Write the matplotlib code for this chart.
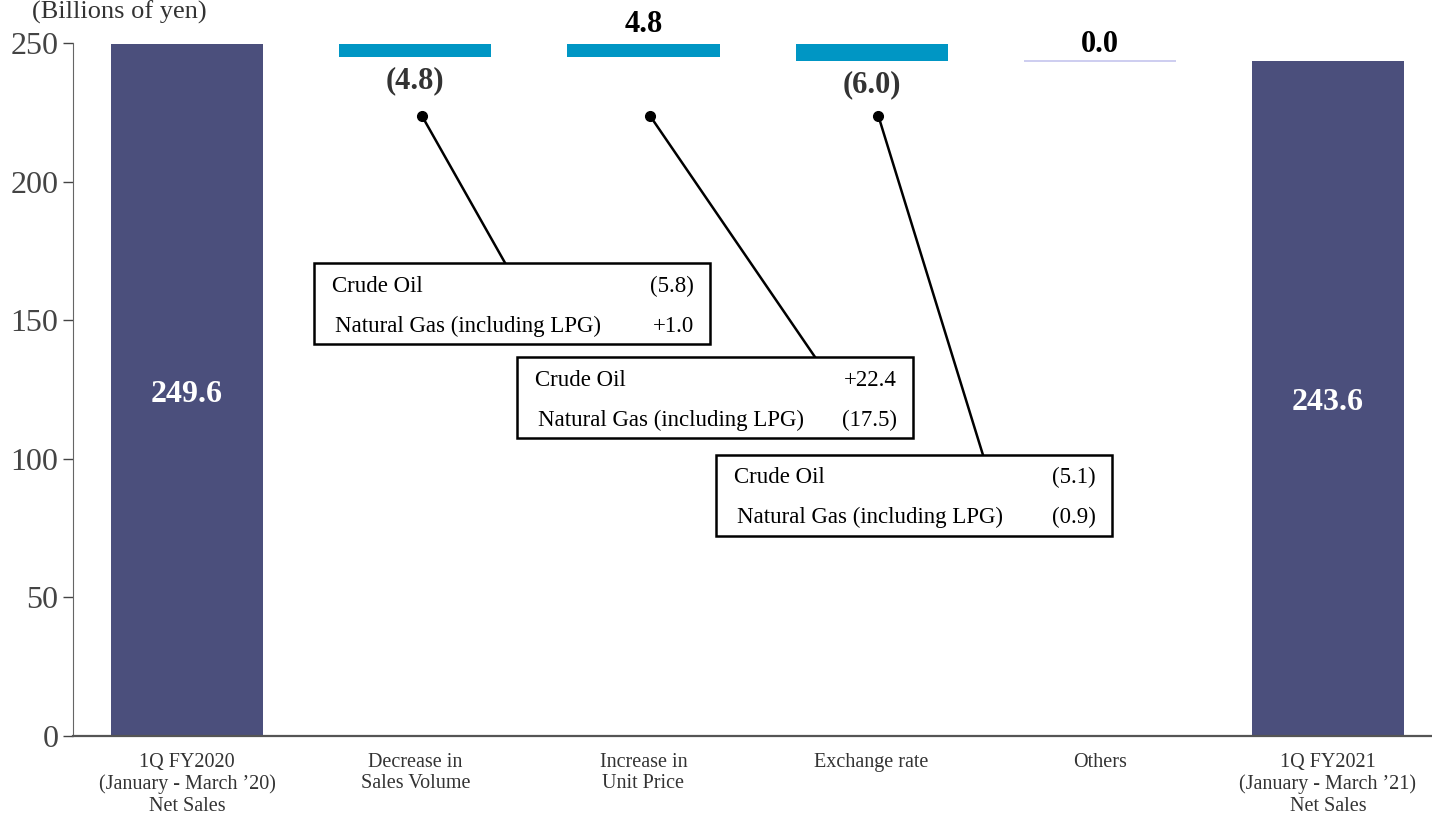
import matplotlib.pyplot as plt
from matplotlib.patches import Rectangle

plt.rcParams['font.family'] = ['Liberation Serif', 'DejaVu Serif']

# data
categories = ["1Q FY2020\n(January - March \u201920)\nNet Sales",
              "Decrease in\nSales Volume",
              "Increase in\nUnit Price",
              "Exchange rate",
              "Others",
              "1Q FY2021\n(January - March \u201921)\nNet Sales"]
start_value = 249.6
deltas = [-4.8, 4.8, -6.0, 0.0]
end_value = 243.6
yticks = [0, 50, 100, 150, 200, 250]

# breakdown boxes: (category index, rows)
breakdowns = [
    (1, [("Crude Oil", "(5.8)"), ("Natural Gas (including LPG)", "+1.0")]),
    (2, [("Crude Oil", "+22.4"), ("Natural Gas (including LPG)", "(17.5)")]),
    (3, [("Crude Oil", "(5.1)"), ("Natural Gas (including LPG)", "(0.9)")]),
]

total_color = '#4b4f7c'
delta_color = '#0096c4'
zero_color = '#c5c5ee'

fig = plt.figure(figsize=(14.32, 8.16), dpi=100)
ax = fig.add_axes([73 / 1432, 80 / 816, 1 - 73 / 1432, (736 - 43) / 816])
width = 0.667

# totals
ax.bar(0, start_value, width, color=total_color)
ax.bar(5, end_value, width, color=total_color)
for i, v in [(0, start_value), (5, end_value)]:
    ax.annotate(f"{v:.1f}", (i, v / 2), xytext=(0, -3), textcoords='offset points',
                ha='center', va='center', color='white', fontsize=23, fontweight='bold')

def fmt(d):
    return f"({abs(d):.1f})" if d < 0 else f"{d:.1f}"

level = start_value
for i, d in enumerate(deltas, start=1):
    new = level + d
    if d == 0:
        ax.hlines(level, i - width / 2, i + width / 2, color=zero_color, lw=1.2)
        ax.annotate(fmt(d), (i, level), xytext=(0, 12), textcoords='offset points',
                    ha='center', va='center', fontsize=22, fontweight='bold',
                    color='black', annotation_clip=False)
    else:
        lo = min(level, new)
        ax.bar(i, abs(d), width, bottom=lo, color=delta_color, clip_on=False)
        if d < 0:
            ax.annotate(fmt(d), (i, lo), xytext=(0, -17), textcoords='offset points',
                        ha='center', va='center', fontsize=22, fontweight='bold',
                        color='#333333', annotation_clip=False)
        else:
            ax.annotate(fmt(d), (i, lo + abs(d)), xytext=(0, 14), textcoords='offset points',
                        ha='center', va='center', fontsize=22, fontweight='bold',
                        color='black', annotation_clip=False)
    level = new

# callout boxes (layout in data units)
box_layout = {1: (0.557, 170.6, 1.394), 2: (1.446, 136.7, 2.752), 3: (2.318, 101.4, 3.488)}
box_w, box_h = 1.735, 29.2
for idx, rows in breakdowns:
    bx, btop, lx = box_layout[idx]
    dot = (idx + 0.03, 223.6)
    ax.plot([dot[0], lx], [dot[1], btop], color='black', lw=1.8, clip_on=False)
    ax.plot(*dot, 'o', color='black', ms=7, clip_on=False)
    ax.add_patch(Rectangle((bx, btop - box_h), box_w, box_h, facecolor='white',
                           edgecolor='black', lw=1.8, zorder=3))
    for r, (name, val) in enumerate(rows):
        y = btop - 8.3 - r * 14.4
        ax.text(bx + 0.08 + r * 0.01, y, name, ha='left', va='center', fontsize=16.5, zorder=4)
        ax.text(bx + box_w - 0.07, y, val, ha='right', va='center', fontsize=16.5, zorder=4)

ax.set_xlim(-0.5, 5.456)
ax.set_ylim(0, 250)
ax.set_yticks(yticks)
ax.set_xticks(range(len(categories)))
ax.set_xticklabels(categories, fontsize=14.5, color='#333333', linespacing=1.2)
ax.tick_params(axis='x', length=0, pad=12)
ax.tick_params(axis='y', labelsize=23, colors='#444444', length=7, width=1)
for s in ['top', 'right']:
    ax.spines[s].set_visible(False)
ax.spines['left'].set_color('#666666')
ax.spines['bottom'].set_color('#555555')
ax.spines['bottom'].set_linewidth(1.6)

fig.text(119 / 1432, 1 - 1 / 816, "(Billions of yen)", ha='center', va='top',
         fontsize=19, color='#333333')

fig.savefig('out.png', dpi=100)
